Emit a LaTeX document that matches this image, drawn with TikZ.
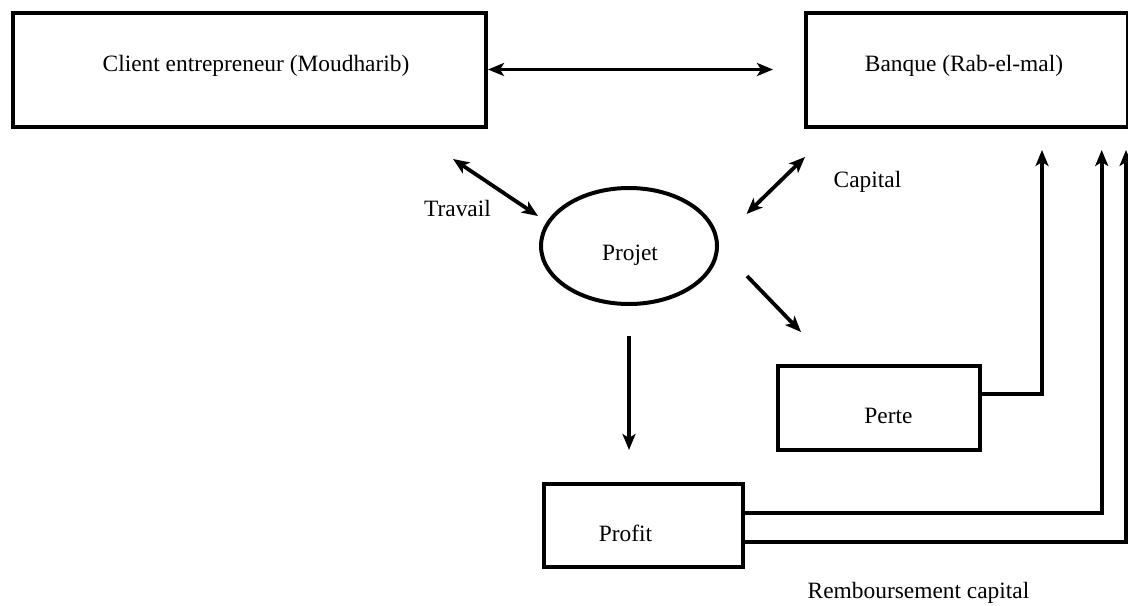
\documentclass[tikz,border=0pt]{standalone}
\usepackage{fontspec}
\setmainfont{Liberation Serif}
\usetikzlibrary{arrows.meta,shapes.geometric,calc}
\begin{document}
\begin{tikzpicture}[x=0.5pt,y=-0.5pt,
  box/.style={draw,line width=2pt,rectangle,inner sep=0pt},
  oval/.style={draw,line width=2pt,ellipse,inner sep=0pt},
  txt/.style={anchor=base,inner sep=0pt,font=\fontsize{11.7pt}{14pt}\selectfont},
  head/.style={Stealth[length=8pt,width=6.5pt,inset=2pt]},
  tip/.style={line width=1.9pt,-{Stealth[length=8pt,width=6.5pt,inset=2pt]}},
  dtip/.style={line width=1.9pt,{Stealth[length=8pt,width=6.5pt,inset=2pt]}-{Stealth[length=8pt,width=6.5pt,inset=2pt]}}]
\useasboundingbox (0,0) rectangle (1128,605);

% boxes
\node[box,minimum width=236.75pt,minimum height=57pt] (client) at (249.25,69.5) {};
\node[box,minimum width=160.75pt,minimum height=57pt] (banque) at (966.75,69.5) {};
\node[oval,minimum width=88pt,minimum height=58pt] (projet) at (629,246) {};
\node[box,minimum width=101.25pt,minimum height=42pt] (perte) at (878.75,407.5) {};
\node[box,minimum width=99.75pt,minimum height=41.5pt] (profit) at (643.25,525.5) {};

% texts
\node[txt] (clientT) at (256,71) {Client entrepreneur (Moudharib)};
\node[txt] (banqueT) at (964,71) {Banque (Rab-el-mal)};
\node[txt] (projetT) at (630,260) {Projet};
\node[txt] (perteT) at (888.5,423) {Perte};
\node[txt] (profitT) at (625.5,541) {Profit};
\node[txt] (travailT) at (457.5,216) {Travail};
\node[txt] (capitalT) at (867.5,187) {Capital};
\node[txt] (rembT) at (918.5,598) {Remboursement capital};

% free ends of the connectors
\coordinate (travA) at (453,159);
\coordinate (travB) at (538,216);
\coordinate (capA) at (805,157);
\coordinate (capB) at (746.5,214);
\coordinate (pertA) at (747,276);
\coordinate (pertB) at (801,332);
\coordinate (profA) at (629,336);
\coordinate (profB) at (629,450);
\coordinate (retA) at (1042,150);
\coordinate (retB) at (1101.7,150);
\coordinate (retC) at (1126,150);

% connectors
\draw[dtip] (client.east) -- ($(banque.west)+(-31,0)$);
\draw[dtip] (travA) -- (travB);
\draw[dtip] (capA) -- (capB);
\draw[tip] (pertA) -- (pertB);
\draw[tip] (profA) -- (profB);
\draw[tip] ([yshift=6.75pt]perte.east) -| (retA);
\draw[tip] ([yshift=6.4pt]profit.east) -| (retB);
\draw[tip] ([yshift=-8.1pt]profit.east) -| (retC);
\end{tikzpicture}
\end{document}
